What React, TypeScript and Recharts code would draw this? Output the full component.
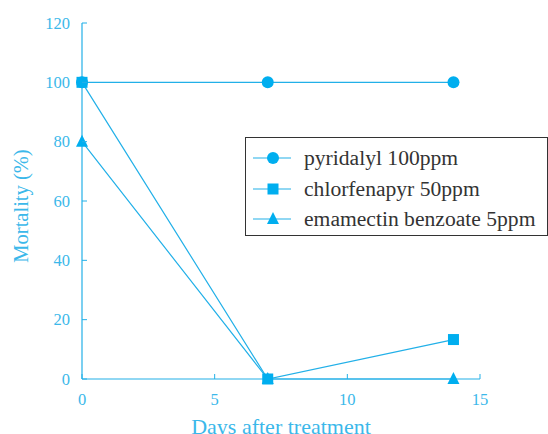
import React from 'react';
import { LineChart, Line, XAxis, YAxis } from 'recharts';

const days = [0, 7, 14];
const pyridalyl = [100, 100, 100];
const chlorfenapyr = [100, 0, 13.3];
const emamectin = [80, 0, 0];
const xTicks = [0, 5, 10, 15];
const yTicks = [0, 20, 40, 60, 80, 100, 120];

const seriesNames = ['pyridalyl 100ppm', 'chlorfenapyr 50ppm', 'emamectin benzoate 5ppm'];

const data = days.map((d, i) => ({
  day: d,
  pyridalyl: pyridalyl[i],
  chlorfenapyr: chlorfenapyr[i],
  emamectin: emamectin[i],
}));

const MARK = '#00AEEF';
const LINE = '#22B0E8';
const TEXT = '#3BB8EA';
const FONT = '"Liberation Serif", "DejaVu Serif", serif';

const CircleDot = (p: any) => {
  const { cx, cy } = p;
  if (cx == null || cy == null) return null;
  return <circle cx={cx} cy={cy} r={6} fill={MARK} />;
};
const SquareDot = (p: any) => {
  const { cx, cy } = p;
  if (cx == null || cy == null) return null;
  return <rect x={cx - 5.5} y={cy - 5.5} width={11} height={11} fill={MARK} />;
};
const TriDot = (p: any) => {
  const { cx, cy } = p;
  if (cx == null || cy == null) return null;
  return <polygon points={`${cx},${cy - 7} ${cx - 6},${cy + 5} ${cx + 6},${cy + 5}`} fill={MARK} />;
};

const YTick = (p: any) => {
  const { x, y, payload } = p;
  return (
    <g>
      <line x1={x} y1={y} x2={x + 5} y2={y} stroke={LINE} strokeWidth={1} />
      <text x={x - 12} y={y} dy={5.5} textAnchor="end" fill={TEXT} fontSize={16.5} fontFamily={FONT}>
        {payload.value}
      </text>
    </g>
  );
};

const XTick = (p: any) => {
  const { x, y, payload } = p;
  return (
    <g>
      <line x1={x} y1={y} x2={x} y2={y - 5} stroke={LINE} strokeWidth={1} />
      <text x={x} y={y + 26} textAnchor="middle" fill={TEXT} fontSize={16.5} fontFamily={FONT}>
        {payload.value}
      </text>
    </g>
  );
};

const legendMarkers = [
  (cx: number, cy: number) => <circle cx={cx} cy={cy} r={6} fill={MARK} />,
  (cx: number, cy: number) => <rect x={cx - 5.5} y={cy - 5.5} width={11} height={11} fill={MARK} />,
  (cx: number, cy: number) => (
    <polygon points={`${cx},${cy - 7} ${cx - 6},${cy + 5} ${cx + 6},${cy + 5}`} fill={MARK} />
  ),
];

const LegendBox = () => (
  <div
    style={{
      position: 'absolute',
      left: 245,
      top: 137,
      width: 301,
      height: 97,
      border: '1px solid #333',
      background: '#fff',
    }}
  >
    {seriesNames.map((name, i) => (
      <div
        key={name}
        style={{ position: 'absolute', left: 0, top: 5 + i * 30.5, height: 30, display: 'flex', alignItems: 'center' }}
      >
        <svg width={58} height={30} style={{ display: 'block' }}>
          <line x1={7} y1={15} x2={45} y2={15} stroke={LINE} strokeWidth={1.2} />
          {legendMarkers[i](27, 15)}
        </svg>
        <span style={{ fontFamily: FONT, fontSize: 21.6, color: '#333', whiteSpace: 'nowrap', lineHeight: '30px' }}>
          {name}
        </span>
      </div>
    ))}
  </div>
);

const MortalityLabel = () => (
  <text
    transform="translate(28,206) rotate(-90)"
    textAnchor="middle"
    fill={TEXT}
    fontSize={20.5}
    fontFamily={FONT}
  >
    Mortality (%)
  </text>
);

export default function App() {
  return (
    <div style={{ position: 'absolute', left: 0, top: 0, width: 548, height: 434, background: '#fff', overflow: 'hidden' }}>
      <LineChart width={548} height={434} data={data} margin={{ top: 23, right: 68, left: 0, bottom: 0 }}>
        <XAxis
          dataKey="day"
          type="number"
          domain={[0, 15]}
          ticks={xTicks}
          height={55}
          tickSize={0}
          tickMargin={0}
          tickLine={false}
          axisLine={{ stroke: LINE, strokeWidth: 1.2 }}
          tick={<XTick />}
          interval={0}
          label={{
            value: 'Days after treatment',
            position: 'insideBottom',
            offset: 0,
            fill: TEXT,
            fontSize: 22,
            fontFamily: FONT,
          }}
        />
        <YAxis
          type="number"
          domain={[0, 120]}
          ticks={yTicks}
          width={82}
          tickSize={0}
          tickMargin={0}
          tickLine={false}
          axisLine={{ stroke: LINE, strokeWidth: 1.2 }}
          tick={<YTick />}
          interval={0}
          label={{ content: () => <MortalityLabel /> }}
        />
        <Line
          dataKey="pyridalyl"
          name={seriesNames[0]}
          stroke={LINE}
          strokeWidth={1.2}
          dot={<CircleDot />}
          activeDot={false}
          isAnimationActive={false}
        />
        <Line
          dataKey="chlorfenapyr"
          name={seriesNames[1]}
          stroke={LINE}
          strokeWidth={1.2}
          dot={<SquareDot />}
          activeDot={false}
          isAnimationActive={false}
        />
        <Line
          dataKey="emamectin"
          name={seriesNames[2]}
          stroke={LINE}
          strokeWidth={1.2}
          dot={<TriDot />}
          activeDot={false}
          isAnimationActive={false}
        />
      </LineChart>
      <LegendBox />
    </div>
  );
}
